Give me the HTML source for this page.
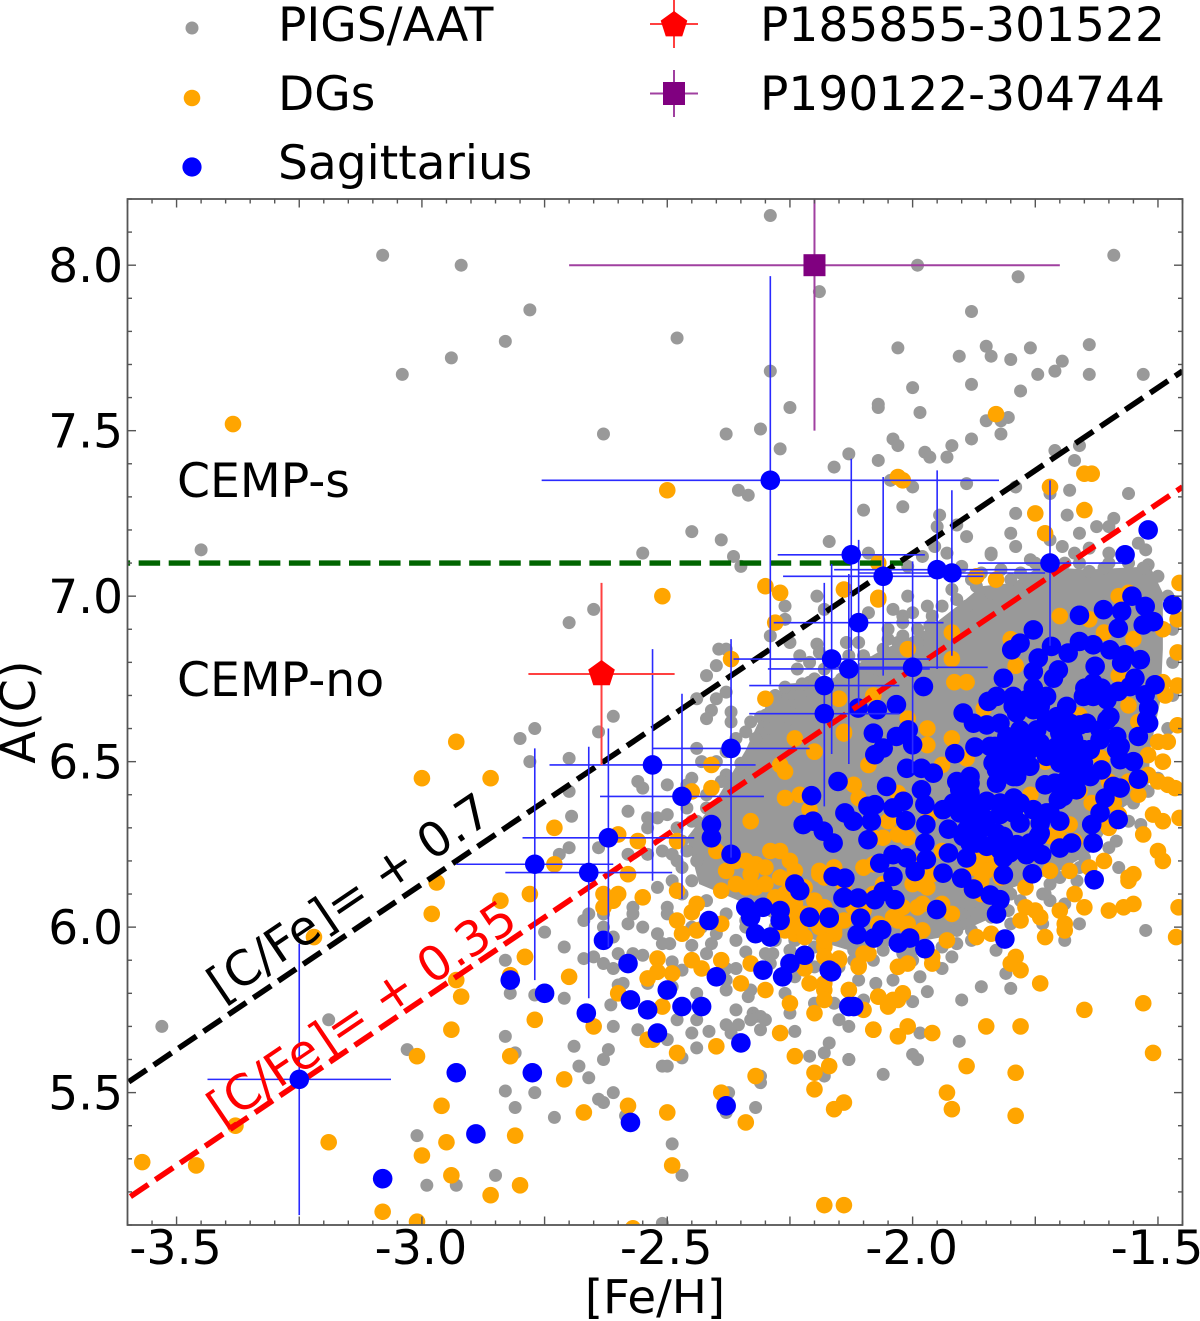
<!DOCTYPE html>
<html lang="en">
<head>
<meta charset="utf-8">
<title>A(C) versus [Fe/H]</title>
<style>
html,body{margin:0;padding:0;background:#fff;width:1200px;height:1321px;overflow:hidden}
svg{display:block}
text{font-family:"DejaVu Sans","Liberation Sans",sans-serif;fill:#000}
</style>
</head>
<body>
<svg id="chart" xmlns="http://www.w3.org/2000/svg" width="1200" height="1321" viewBox="0 0 1200 1321"></svg>
<script>
/* axis limits and tick labels */
const xDomain = [-3.6, -1.45];
const yDomain = [5.1, 8.2];
const xLabelTicks = [-3.5, -3.0, -2.5, -2.0, -1.5];
const yLabelTicks = [5.5, 6.0, 6.5, 7.0, 7.5, 8.0];

/* reference lines */
const cFeBlack = 0.7;
const cFeRed = 0.35;
const solarCarbon = 8.43;
const cempLevel = 7.1;
const cempLevelEnd = -2.02;

/* outline of the saturated part of the PIGS/AAT cloud ([Fe/H], A(C)) */
const grayDense = [[-1.645,7.08],[-1.516,7.09],[-1.49,7.01],[-1.49,6.84],[-1.495,6.685],[-1.516,6.535],[-1.52,6.41],[-1.583,6.35],[-1.632,6.23],[-1.70,6.17],[-1.795,6.12],[-1.82,6.04],[-1.92,5.975],[-2.03,5.945],[-2.13,5.93],[-2.23,5.975],[-2.33,6.065],[-2.435,6.13],[-2.46,6.27],[-2.40,6.385],[-2.34,6.535],[-2.30,6.665],[-2.26,6.735],[-2.17,6.745],[-2.065,6.835],[-1.97,6.9],[-1.90,6.98],[-1.86,7.03],[-1.795,7.04],[-1.74,7.09]];

/* PIGS/AAT stars outside the saturated cloud */
const grayStars = [[-3.08,8.03],[-2.92,8.0],[-3.53,5.7],[-3.03,5.63],[-3.45,7.14],[-3.04,7.67],[-2.94,7.72],[-3.19,5.72],[-3.01,5.37],[-2.99,5.22],[-2.85,5.25],[-2.93,5.22],
[-2.29,8.15],[-2.78,7.865],[-2.83,7.77],[-2.48,7.78],[-2.19,7.92],[-2.29,7.68],[-2.25,7.57],[-2.63,7.49],[-2.38,7.49],[-2.31,7.505],[-2.27,7.445],[-2.13,7.43],[-2.16,7.39],[-2.355,7.32],[-2.335,7.305],[-2.45,7.195],[-2.39,7.17],[-2.55,7.13],[-2.365,7.12],[-2.35,7.09],[-2.17,7.165],[-2.65,6.96],[-2.70,6.92],[-2.195,7.0],[-2.26,6.97],[-2.18,6.96],[-2.26,6.93],[-2.29,6.88],[-2.25,6.86],[-2.195,6.855],[-2.135,6.86],[-2.395,6.84],[-2.38,6.84],
[-1.99,8.0],[-1.59,8.03],[-1.785,7.965],[-1.88,7.86],[-2.03,7.75],[-1.85,7.755],[-1.84,7.725],[-1.905,7.725],[-1.80,7.715],[-1.76,7.75],[-1.695,7.71],[-1.71,7.68],[-1.745,7.67],[-1.64,7.76],[-1.64,7.67],[-1.53,7.67],[-1.78,7.62],[-1.88,7.64],[-2.0,7.63],[-2.07,7.58],[-2.07,7.57],[-1.985,7.555],[-1.805,7.54],[-1.85,7.53],[-1.82,7.53],[-1.82,7.49],[-1.88,7.475],[-2.04,7.475],[-2.03,7.455],[-1.92,7.455],[-1.975,7.435],[-1.965,7.42],[-1.93,7.42],[-2.07,7.41],[-1.66,7.455],[-1.71,7.44],[-1.67,7.41],[-2.045,7.35],[-2.0,7.33],[-1.89,7.34],[-1.79,7.33],[-1.72,7.31],[-1.68,7.32],[-1.56,7.31],[-2.1,7.26],[-2.02,7.27],[-1.79,7.25],[-1.685,7.245],[-1.945,7.245],[-1.95,7.21],[-1.91,7.215],[-1.89,7.18],[-1.80,7.19],[-1.625,7.21],[-1.59,7.235],[-1.60,7.21],[-1.66,7.19],[-1.54,7.16],[-1.525,7.14],[-1.955,7.15],[-1.93,7.13],[-2.09,7.13],[-1.98,7.12],[-1.84,7.13],[-1.79,7.15],[-1.72,7.17],[-1.695,7.15],[-1.67,7.13],[-1.60,7.13],[-1.64,7.145],[-2.01,7.09],[-1.90,7.09],[-1.76,7.11],[-1.64,7.075],[-1.61,7.085],[-1.52,7.095],[-1.50,7.06],[-1.53,7.085],[-1.87,7.03],[-1.84,7.01],[-1.80,7.05],[-1.765,7.05],[-2.01,7.0],
[-2.04,6.96],[-2.02,6.94],[-1.97,6.97],[-2.09,6.95],[-2.05,6.9],[-1.965,6.91],[-2.06,6.84],[-2.03,6.86],[-2.21,6.80],[-2.09,6.8],[-2.06,6.77],[-2.09,6.75],[-2.21,6.74],[-2.145,6.75],[-1.89,6.97],[-1.91,6.99],[-1.84,7.125],[-1.48,7.0],[-1.47,6.9],[-1.47,6.8],
[-2.61,6.637],[-2.77,6.6],[-2.8,6.57],[-2.64,6.59],[-2.78,6.5],[-2.70,6.51],[-2.70,6.41],[-2.695,6.335],[-2.58,6.35],[-2.56,6.44],[-2.55,6.42],[-2.50,6.43],[-2.45,6.45],[-2.46,6.43],[-2.44,6.54],[-2.43,6.5],[-2.40,6.79],[-2.42,6.76],[-2.38,6.71],[-2.41,6.655],[-2.42,6.63],[-2.37,6.65],[-2.37,6.62],[-2.44,6.69],[-2.40,6.69],[-2.31,6.635],[-2.34,6.59],[-2.32,6.57],[-2.29,6.6],[-2.26,6.57],[-2.24,6.68],[-2.26,6.725],[-2.225,6.735],[-2.235,6.78],[-2.25,6.63],[-2.35,6.495],[-2.40,6.5],[-2.38,6.46],[-2.36,6.42],[-2.42,6.40],[-2.46,6.36],[-2.44,6.32],[-2.48,6.3],
[-2.5,6.34],[-2.52,6.33],[-2.54,6.33],[-2.54,6.3],[-2.51,6.23],[-2.54,6.22],[-2.58,6.22],[-2.64,6.24],[-2.70,6.24],[-2.72,6.22],[-2.57,6.06],[-2.58,6.01],[-2.55,6.0],[-2.52,5.98],[-2.63,6.04],[-2.63,6.0],[-2.67,6.02],[-2.75,5.985],[-2.71,5.94],[-2.67,5.905],[-2.65,5.91],[-2.61,5.97],[-2.60,5.92],[-2.55,5.915],[-2.63,5.89],[-2.61,5.875],[-2.83,5.9],[-2.77,5.795],[-2.71,5.785],[-2.82,5.8],[-2.6,5.825],[-2.48,6.2],[-2.49,6.14],[-2.47,6.1],[-2.52,6.12],[-2.5,6.06],
[-2.83,5.67],[-2.81,5.62],[-2.83,5.505],[-2.81,5.455],[-2.77,5.5],[-2.73,5.425],[-2.69,5.64],[-2.68,5.58],[-2.66,5.545],[-2.63,5.6],[-2.62,5.63],[-2.64,5.48],[-2.63,5.47],[-2.61,5.5],[-2.61,5.7],[-2.56,5.69],[-2.615,5.765],[-2.585,5.43],[-2.48,5.72],[-2.50,5.66],[-2.47,5.605],[-2.51,5.58],[-2.50,5.58],[-2.49,5.345],[-2.47,5.25],[-2.51,5.105],[-2.45,5.68],[-2.415,5.685],[-2.44,5.72],[-2.44,5.8],[-2.44,5.635],[-2.375,5.5],[-2.38,5.44],[-2.32,5.455],[-2.36,5.75],[-2.38,5.705],[-2.355,5.705],[-2.37,5.68],[-2.325,5.74],[-2.32,5.73],[-2.31,5.73],[-2.3,5.72],[-2.31,5.69],[-2.33,5.72],[-2.24,5.685],[-2.31,5.55],[-2.31,5.53],[-2.15,5.72],[-2.13,5.7],[-2.21,5.61],[-2.18,5.62],[-2.17,5.65],[-2.18,5.55],[-2.13,5.6],[-2.25,5.74],[-2.26,5.8],[-2.2,5.77],[-2.38,5.81],[-2.33,5.81],[-2.335,5.79],[-2.36,5.875],[-2.38,5.84],[-2.47,5.87],[-2.49,5.82],[-2.49,5.895],[-2.59,5.83],[-2.54,5.83],[-2.495,5.95],[-2.51,5.95],[-2.45,5.945],[-2.41,5.95],[-2.36,5.96],[-2.34,5.925],[-2.3,5.92],[-2.285,5.92],[-2.29,5.89],[-2.24,5.85],[-2.38,5.875],[-2.2,5.94],[-2.145,5.97],[-2.5,6.04],[-2.57,6.04],[-2.66,6.04],[-2.57,5.92],[-2.43,6.0],[-2.4,5.98],[-2.34,6.0],[-2.28,5.96],[-2.45,6.0],[-2.42,5.92],[-2.33,5.89],[-2.25,5.93],[-2.2,5.88],[-2.15,5.88],[-2.12,5.9],
[-1.525,5.99],[-1.69,5.96],[-1.66,6.01],[-1.735,6.1],[-1.72,6.08],[-1.69,6.07],[-1.80,6.1],[-1.805,6.05],[-1.735,6.01],[-1.80,6.01],[-1.83,5.93],[-1.87,6.04],[-1.90,6.04],[-1.91,5.99],[-1.91,5.95],[-1.92,5.91],[-1.94,5.875],[-1.88,5.96],[-1.81,5.86],[-1.80,5.815],[-1.86,5.82],[-1.9,5.78],[-1.985,5.85],[-1.97,5.805],[-2.0,5.775],[-2.04,5.84],[-2.075,5.83],[-2.1,5.78],[-2.11,5.84],[-2.16,5.77],[-1.985,5.68],[-1.905,5.655],[-2.0,5.615],[-1.99,5.6],[-2.06,5.555],[-2.13,5.6],[-2.02,5.92],[-2.08,5.9],[-2.0,5.9],
[-1.535,6.31],[-1.585,6.26],[-1.55,6.375],[-1.52,6.41],[-1.65,6.21],[-1.58,6.18],[-1.665,6.14],[-1.73,6.1],[-1.77,6.14],[-1.7,6.15],[-1.85,6.08],[-1.82,6.07],
[-2.23,6.82],[-2.19,6.83],[-2.16,6.8],[-2.13,6.82],[-2.11,6.86],[-2.07,6.8],[-2.04,6.82],[-2.02,6.88],[-1.99,6.9],[-1.99,6.86],[-2.23,6.7],[-2.2,6.75],[-2.18,6.78],[-2.16,6.72],[-2.12,6.76],[-2.1,6.82],[-2.05,6.87],[-2.02,6.92],[-2.0,6.95],[-1.96,6.94],[-1.94,6.97],[-1.92,7.02],[-1.88,7.05],[-1.86,7.07],[-1.82,7.08],[-1.78,7.07],[-1.75,7.1],[-1.72,7.11],[-1.69,7.1],[-1.66,7.1],[-1.6,7.1],[-1.56,7.1],[-2.28,6.7],[-2.3,6.64],[-2.33,6.62],[-2.36,6.57],[-2.38,6.53],[-2.39,6.44],[-2.42,6.36],[-2.45,6.32],[-2.47,6.26],[-2.49,6.22],[-2.47,6.18],[-2.45,6.14],[-2.44,6.2],[-2.46,6.23],[-2.42,6.08],[-2.38,6.04],[-2.34,6.02],[-2.28,6.0],[-2.24,5.96],[-2.18,5.92],[-2.12,5.93],[-2.06,5.93],[-2.0,5.93],[-1.94,5.94],[-1.88,5.99],[-1.84,6.03],[-1.78,6.08],[-1.72,6.13],[-1.66,6.18],[-1.6,6.24],[-1.56,6.32],[-1.5,6.45],[-1.48,6.6],[-1.47,6.7]];

/* dwarf galaxy stars */
const dgStars = [[-3.385,7.52],[-2.5,7.32],[-2.51,7.0],[-2.3,7.03],[-2.27,7.01],[-2.28,6.92],[-2.14,7.02],[-2.93,6.56],[-3.0,6.45],[-2.86,6.45],
[-2.97,6.135],[-2.98,6.04],[-2.84,6.08],[-2.78,6.1],[-3.22,5.97],[-2.93,5.84],[-2.92,5.79],[-2.79,5.91],[-2.82,5.855],[-2.94,5.69],[-3.01,5.61],[-2.82,5.61],[-2.96,5.46],[-3.38,5.4],[-3.19,5.35],[-2.95,5.35],[-2.81,5.37],[-3.0,5.31],[-3.57,5.29],[-3.46,5.28],[-2.94,5.25],[-2.8,5.22],[-2.86,5.19],[-3.08,5.14],[-3.01,5.11],
[-2.37,6.81],[-2.3,6.69],[-2.15,6.69],[-2.14,6.585],[-2.24,6.57],[-2.2,6.53],[-2.41,6.49],[-2.27,6.49],[-2.26,6.47],[-2.45,6.41],[-2.41,6.42],[-2.26,6.39],[-2.23,6.4],[-2.33,6.32],[-2.73,6.3],[-2.6,6.28],[-2.56,6.26],[-2.73,6.19],[-2.48,6.26],[-2.58,6.16],[-2.4,6.23],[-2.36,6.2],[-2.38,6.17],[-2.29,6.23],[-2.27,6.23],[-2.25,6.2],[-2.24,6.17],[-2.33,6.16],[-2.32,6.19],[-2.36,6.13],[-2.32,6.12],[-2.3,6.13],[-2.19,6.16],[-2.16,6.18],[-2.1,6.18],[-2.48,6.11],[-2.39,6.11],[-2.63,6.1],[-2.6,6.1],[-2.61,6.08],[-2.63,6.06],[-2.55,6.09],[-2.44,6.07],[-2.45,6.045],[-2.48,6.02],[-2.47,5.98],[-2.44,5.99],[-2.39,6.01],[-2.28,6.09],[-2.3,6.06],[-2.25,6.13],[-2.24,6.07],[-2.25,6.02],[-2.26,5.99],[-2.24,5.98],[-2.2,6.08],[-2.18,6.06],[-2.16,5.98],[-2.18,5.94],[-2.18,5.91],[-2.15,5.905],[-2.09,5.92],[-2.11,5.885],[-2.22,5.875],[-2.33,5.89],[-2.39,5.9],[-2.45,5.9],[-2.43,5.875],[-2.52,5.905],[-2.52,5.865],[-2.49,5.86],[-2.54,5.845],[-2.79,5.91],[-2.7,5.85],[-2.6,5.8],[-2.35,5.83],[-2.3,5.81],[-2.21,5.83],[-2.18,5.83],[-2.18,5.81],[-2.18,5.78],[-2.13,5.81],[-2.07,5.79],[-2.05,5.76],[-2.04,5.78],[-2.25,5.77],[-2.2,5.74],[-2.51,5.76],[-2.77,5.72],[-2.65,5.7],[-2.27,5.68],[-2.08,5.69],[-2.54,5.66],[-2.4,5.64],
[-2.07,6.99],[-1.87,7.06],[-1.83,7.05],[-2.01,6.84],[-1.92,6.89],[-1.92,6.81],[-1.70,6.94],[-1.64,6.93],[-1.58,7.0],[-1.56,7.01],[-1.456,7.04],[-1.46,6.93],[-1.49,6.90],[-1.55,6.87],[-1.61,6.89],[-1.80,6.87],[-1.79,6.79],[-1.46,6.83],[-1.49,6.74],[-1.485,6.70],[-1.46,6.73],[-1.56,6.67],[-1.58,6.76],[-1.915,6.74],[-1.89,6.74],[-2.15,6.69],[-2.08,6.70],[-2.01,6.63],[-1.855,6.66],[-1.46,6.61],[-1.66,6.64],[-1.97,6.60],[-2.14,6.59],[-2.2,6.53],[-1.97,6.55],[-1.92,6.57],[-1.89,6.51],[-1.94,6.49],[-2.09,6.49],[-1.48,6.56],[-1.50,6.56],[-1.52,6.52],[-1.49,6.50],[-1.615,6.51],[-1.73,6.50],[-1.50,6.44],[-1.48,6.43],[-1.465,6.42],[-2.12,6.43],[-2.11,6.39],[-1.76,6.40],[-1.66,6.41],[-1.635,6.375],[-1.59,6.375],[-2.03,6.405],[-2.21,6.355],[-1.51,6.34],[-1.49,6.32],[-1.456,6.33],[-1.68,6.31],[-2.05,6.32],[-1.965,6.34],[-1.53,6.28],[-1.72,6.275],[-2.06,6.27],[-2.03,6.28],[-2.01,6.27],[-1.5,6.23],[-1.49,6.2],[-1.61,6.2],[-1.68,6.17],[-1.64,6.18],[-1.72,6.17],[-1.856,6.2],[-1.85,6.17],[-1.876,6.18],[-1.83,6.18],[-1.86,6.14],[-2.10,6.18],[-2.08,6.19],[-2.19,6.17],[-2.16,6.18],[-2.18,6.15],[-1.55,6.16],[-1.56,6.15],[-1.77,6.12],[-1.67,6.10],[-2.0,6.13],[-1.97,6.12],[-2.2,6.08],[-1.65,6.06],[-1.77,6.06],[-1.55,6.07],[-1.57,6.06],[-1.60,6.05],[-1.70,6.05],[-1.75,6.05],[-1.74,6.03],[-1.92,6.04],[-1.94,6.07],[-1.98,6.07],[-2.04,6.03],[-1.78,6.02],[-1.69,6.01],[-1.69,5.99],[-1.458,6.06],[-2.16,5.99],[-2.07,6.01],[-2.01,6.0],[-1.98,5.99],[-1.87,5.97],[-1.84,5.98],[-1.73,5.97],[-1.463,5.97],[-2.18,5.96],
[-1.93,5.96],[-1.79,5.91],[-1.80,5.89],[-1.78,5.87],[-1.74,5.83],[-1.53,5.77],[-1.65,5.75],[-1.51,5.62],[-1.78,5.70],[-1.85,5.70],[-1.79,5.56],[-1.89,5.58],[-1.93,5.50],[-1.92,5.45],[-1.79,5.43],[-1.96,5.68],[-2.01,5.70],[-2.03,5.67],[-2.08,5.69],[-2.10,5.75],[-2.07,5.79],[-2.03,5.78],[-2.02,5.80],[-2.13,5.81],[-2.14,5.47],[-2.16,5.45],[-2.14,5.16],[-2.18,5.16],[-2.10,5.92],[-2.11,5.88],[-2.03,5.88],[-2.01,5.89],[-1.96,5.89],[-1.96,5.91],[-2.15,5.9],[-1.99,6.06],[-2.01,6.01],[-1.56,6.14],
[-2.71,5.54],[-2.67,5.44],[-2.58,5.46],[-2.5,5.44],[-2.49,5.28],[-2.48,5.62],[-2.32,5.55],[-2.39,5.5],[-2.34,5.41],[-2.24,5.61],[-2.2,5.56],[-2.17,5.58],[-2.2,5.51],[-2.57,5.09],[-2.53,5.66],
[-1.83,7.55],[-2.03,7.36],[-2.02,7.35],[-1.72,7.33],[-1.635,7.37],[-1.65,7.37],[-1.65,7.26],[-1.75,7.25],[-1.73,7.19],[-2.07,7.1],[-2.07,6.995],
[-2.26,6.1],[-2.24,6.1],[-2.22,6.12],[-2.27,6.06],[-2.25,6.05],[-2.22,6.04],[-2.2,6.02],[-2.23,6.0],[-2.27,6.15],[-2.3,6.18],[-2.34,6.12],[-2.34,6.2],[-2.27,6.02],[-2.22,5.97],[-2.19,6.0],[-2.14,6.02],[-2.12,6.06],[-2.1,6.05],[-2.08,6.1],[-2.02,6.06],[-2.03,6.02],[-1.98,6.13],[-1.96,6.16],[-2.0,6.2],[-1.94,6.23],[-1.88,6.22],[-1.84,6.22],[-1.86,6.1],[-1.88,6.12],[-1.82,6.15],[-1.76,6.22],[-1.7,6.27],[-1.67,6.26],[-1.6,6.3],[-1.58,6.34],[-1.54,6.4],[-1.56,6.44],[-1.6,6.44],[-1.62,6.56],[-1.54,6.62],[-1.52,6.46],[-2.06,6.13],[-2.14,6.13],[-2.08,6.27]];

/* Sagittarius stars without drawn uncertainties */
const sagStars = [[-1.52,7.2],[-1.567,7.125],[-1.47,6.974],[-1.553,7.0],[-1.611,6.959],[-1.66,6.942],[-1.574,6.954],[-1.526,6.969],[-1.581,6.903],[-1.53,6.913],[-1.509,6.923],[-1.754,6.898],[-1.798,6.838],[-1.781,6.858],[-1.717,6.848],[-1.744,6.813],[-1.754,6.772],[-1.703,6.777],[-1.66,6.863],[-1.683,6.828],[-1.632,6.853],[-1.628,6.788],[-1.598,6.838],[-1.567,6.823],[-1.536,6.808],[-1.574,6.798],[-1.547,6.752],[-1.815,6.752],[-1.713,6.752],[-1.506,6.732],[-1.526,6.702],[-1.519,6.662],[-1.649,6.722],[-1.615,6.722],[-1.581,6.712],[-1.754,6.722],[-1.846,6.682],[-1.829,6.697],[-1.795,6.697],[-1.686,6.667],[-1.652,6.697],
[-1.897,6.647],[-1.876,6.616],[-1.849,6.611],[-1.822,6.616],[-1.788,6.647],[-1.754,6.657],[-1.727,6.626],[-1.604,6.626],[-1.519,6.616],[-1.659,6.611],[-1.54,6.576],[-1.7,6.586],[-1.978,6.727],[-2.033,6.672],[-2.072,6.657],[-2.111,6.662],[-2.08,6.586],[-2.009,6.596],[-2.033,6.576],[-2.0,6.551],[-2.077,6.521],[-2.06,6.541],[-1.914,6.524],[-1.873,6.544],[-1.832,6.546],[-1.788,6.556],[-1.74,6.556],[-1.686,6.556],[-1.618,6.566],[-1.584,6.536],
[-1.836,6.496],[-1.795,6.516],[-1.761,6.486],[-1.727,6.516],[-1.666,6.516],[-1.577,6.506],[-1.55,6.5],[-1.659,6.475],[-1.615,6.475],[-2.012,6.48],[-1.982,6.48],[-1.958,6.465],[-2.152,6.44],[-2.053,6.425],[-2.206,6.397],[-1.91,6.44],[-1.883,6.455],[-1.829,6.435],[-1.788,6.455],[-1.73,6.43],[-1.71,6.435],[-1.638,6.455],[-1.591,6.425],[-1.54,6.447],[-1.577,6.42],[-1.672,6.43],
[-1.982,6.415],[-1.975,6.37],[-1.883,6.405],[-1.794,6.39],[-1.703,6.385],[-1.608,6.39],[-2.019,6.38],[-2.04,6.36],[-2.077,6.37],[-2.091,6.365],[-2.138,6.345],[-2.121,6.32],[-2.084,6.32],[-1.938,6.355],[-1.91,6.375],[-1.849,6.38],[-1.822,6.34],[-1.754,6.355],[-1.72,6.345],[-1.618,6.345],[-1.581,6.325],[-1.635,6.31],
[-2.203,6.32],[-2.223,6.31],[-2.182,6.29],[-2.162,6.254],[-2.091,6.264],[-2.014,6.322],[-1.973,6.31],[-1.927,6.296],[-1.883,6.325],[-1.781,6.314],[-1.74,6.314],[-1.7,6.32],[-1.87,6.274],[-1.815,6.274],[-1.744,6.274],[-1.676,6.254],[-1.7,6.239],[-1.632,6.254],[-1.975,6.254],[-1.883,6.254],[-1.788,6.249],[-2.04,6.219],[-2.012,6.209],[-1.972,6.204],[-1.927,6.224],[-2.067,6.193],[-1.89,6.209],[-1.815,6.209],[-1.768,6.219],[-1.737,6.219],[-1.995,6.168],[-1.938,6.163],[-1.9,6.148],[-1.876,6.115],[-1.842,6.097],[-1.822,6.083],[-1.829,6.04],[-1.815,6.158],[-1.756,6.161],[-1.63,6.143],[-2.162,6.153],[-2.138,6.148],[-2.04,6.153],[-2.142,6.088],[-2.111,6.088],[-2.077,6.083],[-2.036,6.083],[-2.06,6.108],[-1.951,6.053],[-2.21,6.03],[-2.17,6.027],[-2.106,6.027],[-2.113,5.977],[-2.079,5.967],[-2.063,5.992],[-2.029,5.952],[-2.006,5.967],[-1.975,5.935],[-1.812,5.964],[-2.165,5.865],[-2.12,5.76],
[-2.82,5.84],[-2.75,5.80],[-2.63,5.96],[-2.665,5.74],[-2.58,5.89],[-2.575,5.78],[-2.54,5.75],[-2.50,5.81],[-2.47,5.76],[-2.43,5.76],[-2.40,5.85],[-2.415,6.02],[-2.52,5.68],[-2.35,5.65],[-2.305,5.87],[-2.265,5.85],[-2.25,5.89],[-2.22,5.915],[-2.17,5.87],[-2.775,5.56],[-2.575,5.41],[-2.38,5.46],[-2.34,6.06],[-2.33,6.03],[-2.305,6.06],[-2.27,6.02],[-2.27,6.05],[-2.32,5.98],[-2.29,5.97],[-2.24,6.13],[-2.23,6.11],[-2.21,6.03],[-2.17,6.03],[-2.14,6.09],[-2.13,5.76],[-3.08,5.24],[-2.89,5.375],[-2.93,5.56],[-2.41,6.31],[-2.41,6.27],[-2.37,6.22],
[-1.842,6.546],[-1.822,6.516],[-1.802,6.546],[-1.781,6.516],[-1.761,6.536],[-1.808,6.485],[-1.785,6.485],[-1.829,6.475],[-1.795,6.455],[-1.768,6.576],[-1.747,6.596],[-1.781,6.596],[-1.808,6.576],[-1.706,6.546],[-1.686,6.526],[-1.672,6.566],[-1.652,6.536],[-1.7,6.496],[-1.672,6.485],[-1.652,6.496],[-1.686,6.445],[-1.666,6.415],[-1.693,6.395],[-1.638,6.536],[-1.679,6.616],[-1.713,6.616],[-1.74,6.667],[-1.74,6.697],[-1.768,6.687],[-1.795,6.667],[-1.727,6.697],[-1.706,6.636],[-1.883,6.435],[-1.904,6.415],[-1.876,6.375],[-1.904,6.345],[-1.87,6.345],[-1.917,6.375],[-1.863,6.294],[-1.89,6.294],[-1.849,6.324],[-1.829,6.284],[-1.87,6.254],[-1.897,6.274],[-1.808,6.254],[-1.822,6.375],[-1.795,6.345],[-1.781,6.375],[-1.822,6.234],[-1.802,6.224],[-1.849,6.244],[-1.761,6.254],[-1.74,6.284],[-1.727,6.345],[-1.632,6.697],[-1.604,6.687],[-1.632,6.737],[-1.598,6.636],[-1.584,6.576],[-1.577,6.546],[-1.618,6.596],[-1.645,6.616],[-1.557,6.727],[-1.523,6.626]];

/* Sagittarius stars with uncertainties */
const sagErrX = [-3.25,-2.77,-2.66,-2.62,-2.53,-2.47,-2.37,-2.29,-2.125,-2.06,-1.95,-1.92,-1.72,-2.11,-2.165,-2.13,-2.0,-2.18,-2.18];
const sagErrY = [5.54,6.19,6.165,6.27,6.49,6.395,6.54,7.35,7.125,7.06,7.08,7.07,7.10,6.92,6.81,6.78,6.785,6.73,6.645];
const sagErrXe = [0.187,0.16,0.17,0.175,0.21,0.167,0.16,0.466,0.15,0.204,0.21,0.19,0.147,0.173,0.2,0.165,0.153,0.153,0.153];
const sagErrYe = [0.41,0.35,0.38,0.33,0.35,0.31,0.33,0.617,0.29,0.30,0.30,0.25,0.25,0.25,0.287,0.287,0.32,0.31,0.28];

/* the two highlighted stars: x, y, xerr, yerr */
const pentagonStar = [-2.634, 6.765, 0.149, 0.275];
const squareStar = [-2.2, 8.0, 0.5, 0.5];

const NS = 'http://www.w3.org/2000/svg';
const svg = document.getElementById('chart');
const plot = {left:127.5, right:1182.5, top:199, bottom:1225};
const xScale = v => plot.left + (v - xDomain[0]) / (xDomain[1] - xDomain[0]) * (plot.right - plot.left);
const yScale = v => plot.bottom - (v - yDomain[0]) / (yDomain[1] - yDomain[0]) * (plot.bottom - plot.top);

function make(tag, attrs, parent, text){
  const el = document.createElementNS(NS, tag);
  for (const k in attrs) el.setAttribute(k, attrs[k]);
  if (text !== undefined) el.textContent = text;
  (parent || svg).appendChild(el);
  return el;
}

const defs = make('defs', {});
const clip = make('clipPath', {id:'plot-clip'}, defs);
make('rect', {x:plot.left, y:plot.top, width:plot.right-plot.left, height:plot.bottom-plot.top}, clip);

const plotLayer = make('g', {'clip-path':'url(#plot-clip)'});



const denseRegion = make('polygon', {points: grayDense.map(p => xScale(p[0]) + ',' + yScale(p[1])).join(' '), fill:'#999999'}, plotLayer);



const grayGroup = make('g', {fill:'#999999'}, plotLayer);


grayStars.forEach(p => {
  const c = make('circle', {cx:xScale(p[0]), cy:yScale(p[1]), r:6.5}, grayGroup);
  
  
});

const dgGroup = make('g', {fill:'#ffa500'}, plotLayer);


dgStars.forEach(p => {
  const c = make('circle', {cx:xScale(p[0]), cy:yScale(p[1]), r:8.3}, dgGroup);
  
  
});

const sagGroup = make('g', {fill:'#0000ff'}, plotLayer);


sagStars.forEach(p => {
  const c = make('circle', {cx:xScale(p[0]), cy:yScale(p[1]), r:9.8}, sagGroup);
  
  
});

const lineLeft = xDomain[0], lineRight = xDomain[1];
const greenLine = make('line', {x1:xScale(lineLeft), y1:yScale(cempLevel), x2:xScale(cempLevelEnd), y2:yScale(cempLevel), stroke:'#006400', 'stroke-width':5.4, 'stroke-dasharray':'21.5 8.55', 'stroke-dashoffset':18.9}, plotLayer);


const blackLine = make('line', {x1:xScale(lineLeft), y1:yScale(lineLeft+solarCarbon+cFeBlack), x2:xScale(lineRight), y2:yScale(lineRight+solarCarbon+cFeBlack), stroke:'#000', 'stroke-width':5.6, 'stroke-dasharray':'21.5 8.55', 'stroke-dashoffset':28.5}, plotLayer);


const redLine = make('line', {x1:xScale(lineLeft), y1:yScale(lineLeft+solarCarbon+cFeRed), x2:xScale(lineRight), y2:yScale(lineRight+solarCarbon+cFeRed), stroke:'#ff0000', 'stroke-width':5.6, 'stroke-dasharray':'21.5 8.55', 'stroke-dashoffset':26.5}, plotLayer);



function errorBars(cx, cy, xe, ye, color, w, parent){
  make('line', {x1:xScale(cx-xe), y1:yScale(cy), x2:xScale(cx+xe), y2:yScale(cy), stroke:color, 'stroke-width':w}, parent);
  make('line', {x1:xScale(cx), y1:yScale(cy-ye), x2:xScale(cx), y2:yScale(cy+ye), stroke:color, 'stroke-width':w}, parent);
}

const sagErrGroup = make('g', {}, plotLayer);


sagErrX.forEach((x, i) => errorBars(x, sagErrY[i], sagErrXe[i], sagErrYe[i], '#2a2aff', 1.6, sagErrGroup));
sagErrX.forEach((x, i) => {
  const c = make('circle', {cx:xScale(x), cy:yScale(sagErrY[i]), r:9.8, fill:'#0000ff'}, sagErrGroup);
  
  
});

function pentagonPoints(cx, cy, r){
  const pts = [];
  for (let i = 0; i < 5; i++){
    const a = -Math.PI/2 + i*2*Math.PI/5;
    pts.push((cx + r*Math.cos(a)) + ',' + (cy + r*Math.sin(a)));
  }
  return pts.join(' ');
}

const pentagonGroup = make('g', {}, plotLayer);


errorBars(pentagonStar[0], pentagonStar[1], pentagonStar[2], pentagonStar[3], '#ff4040', 2, pentagonGroup);
make('polygon', {points:pentagonPoints(xScale(pentagonStar[0]), yScale(pentagonStar[1]), 14), fill:'#ff0000'}, pentagonGroup);

const squareGroup = make('g', {}, plotLayer);


errorBars(squareStar[0], squareStar[1], squareStar[2], squareStar[3], '#a040a0', 2, squareGroup);
make('rect', {x:xScale(squareStar[0])-11, y:yScale(squareStar[1])-11, width:22, height:22, fill:'#800080'}, squareGroup);

/* frame and ticks */
const axisGroup = make('g', {stroke:'#555555'});


for (let k = -72; k <= -29; k++){
  const v = k * 0.05;
  if (v < xDomain[0] - 1e-6 || v > xDomain[1] + 1e-6) continue;
  const major = k % 5 === 0;
  const len = major ? 8.5 : 4.5;
  const px = xScale(v);
  make('line', {x1:px, y1:plot.bottom, x2:px, y2:plot.bottom-len, 'stroke-width':1.4}, axisGroup);
  make('line', {x1:px, y1:plot.top, x2:px, y2:plot.top+len, 'stroke-width':1.4}, axisGroup);
}
for (let k = 51; k <= 82; k++){
  const v = k * 0.1;
  const major = k % 5 === 0;
  const len = major ? 8.5 : 4.5;
  const py = yScale(v);
  make('line', {x1:plot.left, y1:py, x2:plot.left+len, y2:py, 'stroke-width':1.4}, axisGroup);
  make('line', {x1:plot.right, y1:py, x2:plot.right-len, y2:py, 'stroke-width':1.4}, axisGroup);
}
const frame = make('rect', {x:plot.left, y:plot.top, width:plot.right-plot.left, height:plot.bottom-plot.top, fill:'none', 'stroke-width':1.8}, axisGroup);



xLabelTicks.forEach(v => {
  const t = make('text', {x:xScale(v)-1, y:1264, 'text-anchor':'middle', 'font-size':47.5}, svg, v.toFixed(1));
  
  
});
yLabelTicks.forEach(v => {
  const t = make('text', {x:123, y:yScale(v)+17, 'text-anchor':'end', 'font-size':47}, svg, v.toFixed(1));
  
  
});

/* annotations */
function label(txt, name, attrs){
  const t = make('text', attrs, svg, txt);
  
  
  return t;
}
label('[Fe/H]', 'x-axis-title', {x:655, y:1313, 'text-anchor':'middle', 'font-size':46.7});
label('A(C)', 'y-axis-title', {transform:'translate(35,712) rotate(-90)', 'text-anchor':'middle', 'font-size':47.8});
label('CEMP-s', 'cemp-s-label', {x:177, y:497, 'font-size':47.3});
label('CEMP-no', 'cemp-no-label', {x:177, y:696, 'font-size':47.3});
label('[C/Fe]= + 0.7', 'cfe-0.7-label', {transform:'translate(222,1003) rotate(-34)', 'font-size':48});
const redLabel = label('[C/Fe]= + 0.35', 'cfe-0.35-label', {transform:'translate(222,1127) rotate(-34)', 'font-size':48});
redLabel.style.fill = '#ff0000';

/* legend */
const legend = make('g', {});


function legendText(txt, x, y){
  const t = make('text', {x:x, y:y, 'font-size':47.1}, legend, txt);
  
  
}
function legendDot(y, r, color){
  const c = make('circle', {cx:192, cy:y, r:r, fill:color}, legend);
  
  
}
legendDot(28, 6.5, '#999999');
legendDot(98, 8.3, '#ffa500');
legendDot(167, 9.6, '#0000ff');
legendText('PIGS/AAT', 278, 41);
legendText('DGs', 278, 110);
legendText('Sagittarius', 278, 179);
make('line', {x1:650, y1:24, x2:698, y2:24, stroke:'#ff4040', 'stroke-width':2}, legend);
make('line', {x1:674, y1:0, x2:674, y2:48, stroke:'#ff4040', 'stroke-width':2}, legend);
const legendPentagon = make('polygon', {points:pentagonPoints(674, 25, 14), fill:'#ff0000'}, legend);


make('line', {x1:650, y1:93.5, x2:698, y2:93.5, stroke:'#a040a0', 'stroke-width':2}, legend);
make('line', {x1:674, y1:70, x2:674, y2:117, stroke:'#a040a0', 'stroke-width':2}, legend);
const legendSquare = make('rect', {x:663, y:82, width:22, height:23, fill:'#800080'}, legend);


legendText('P185855-301522', 760, 41);
legendText('P190122-304744', 760, 110);
</script>
</body>
</html>
